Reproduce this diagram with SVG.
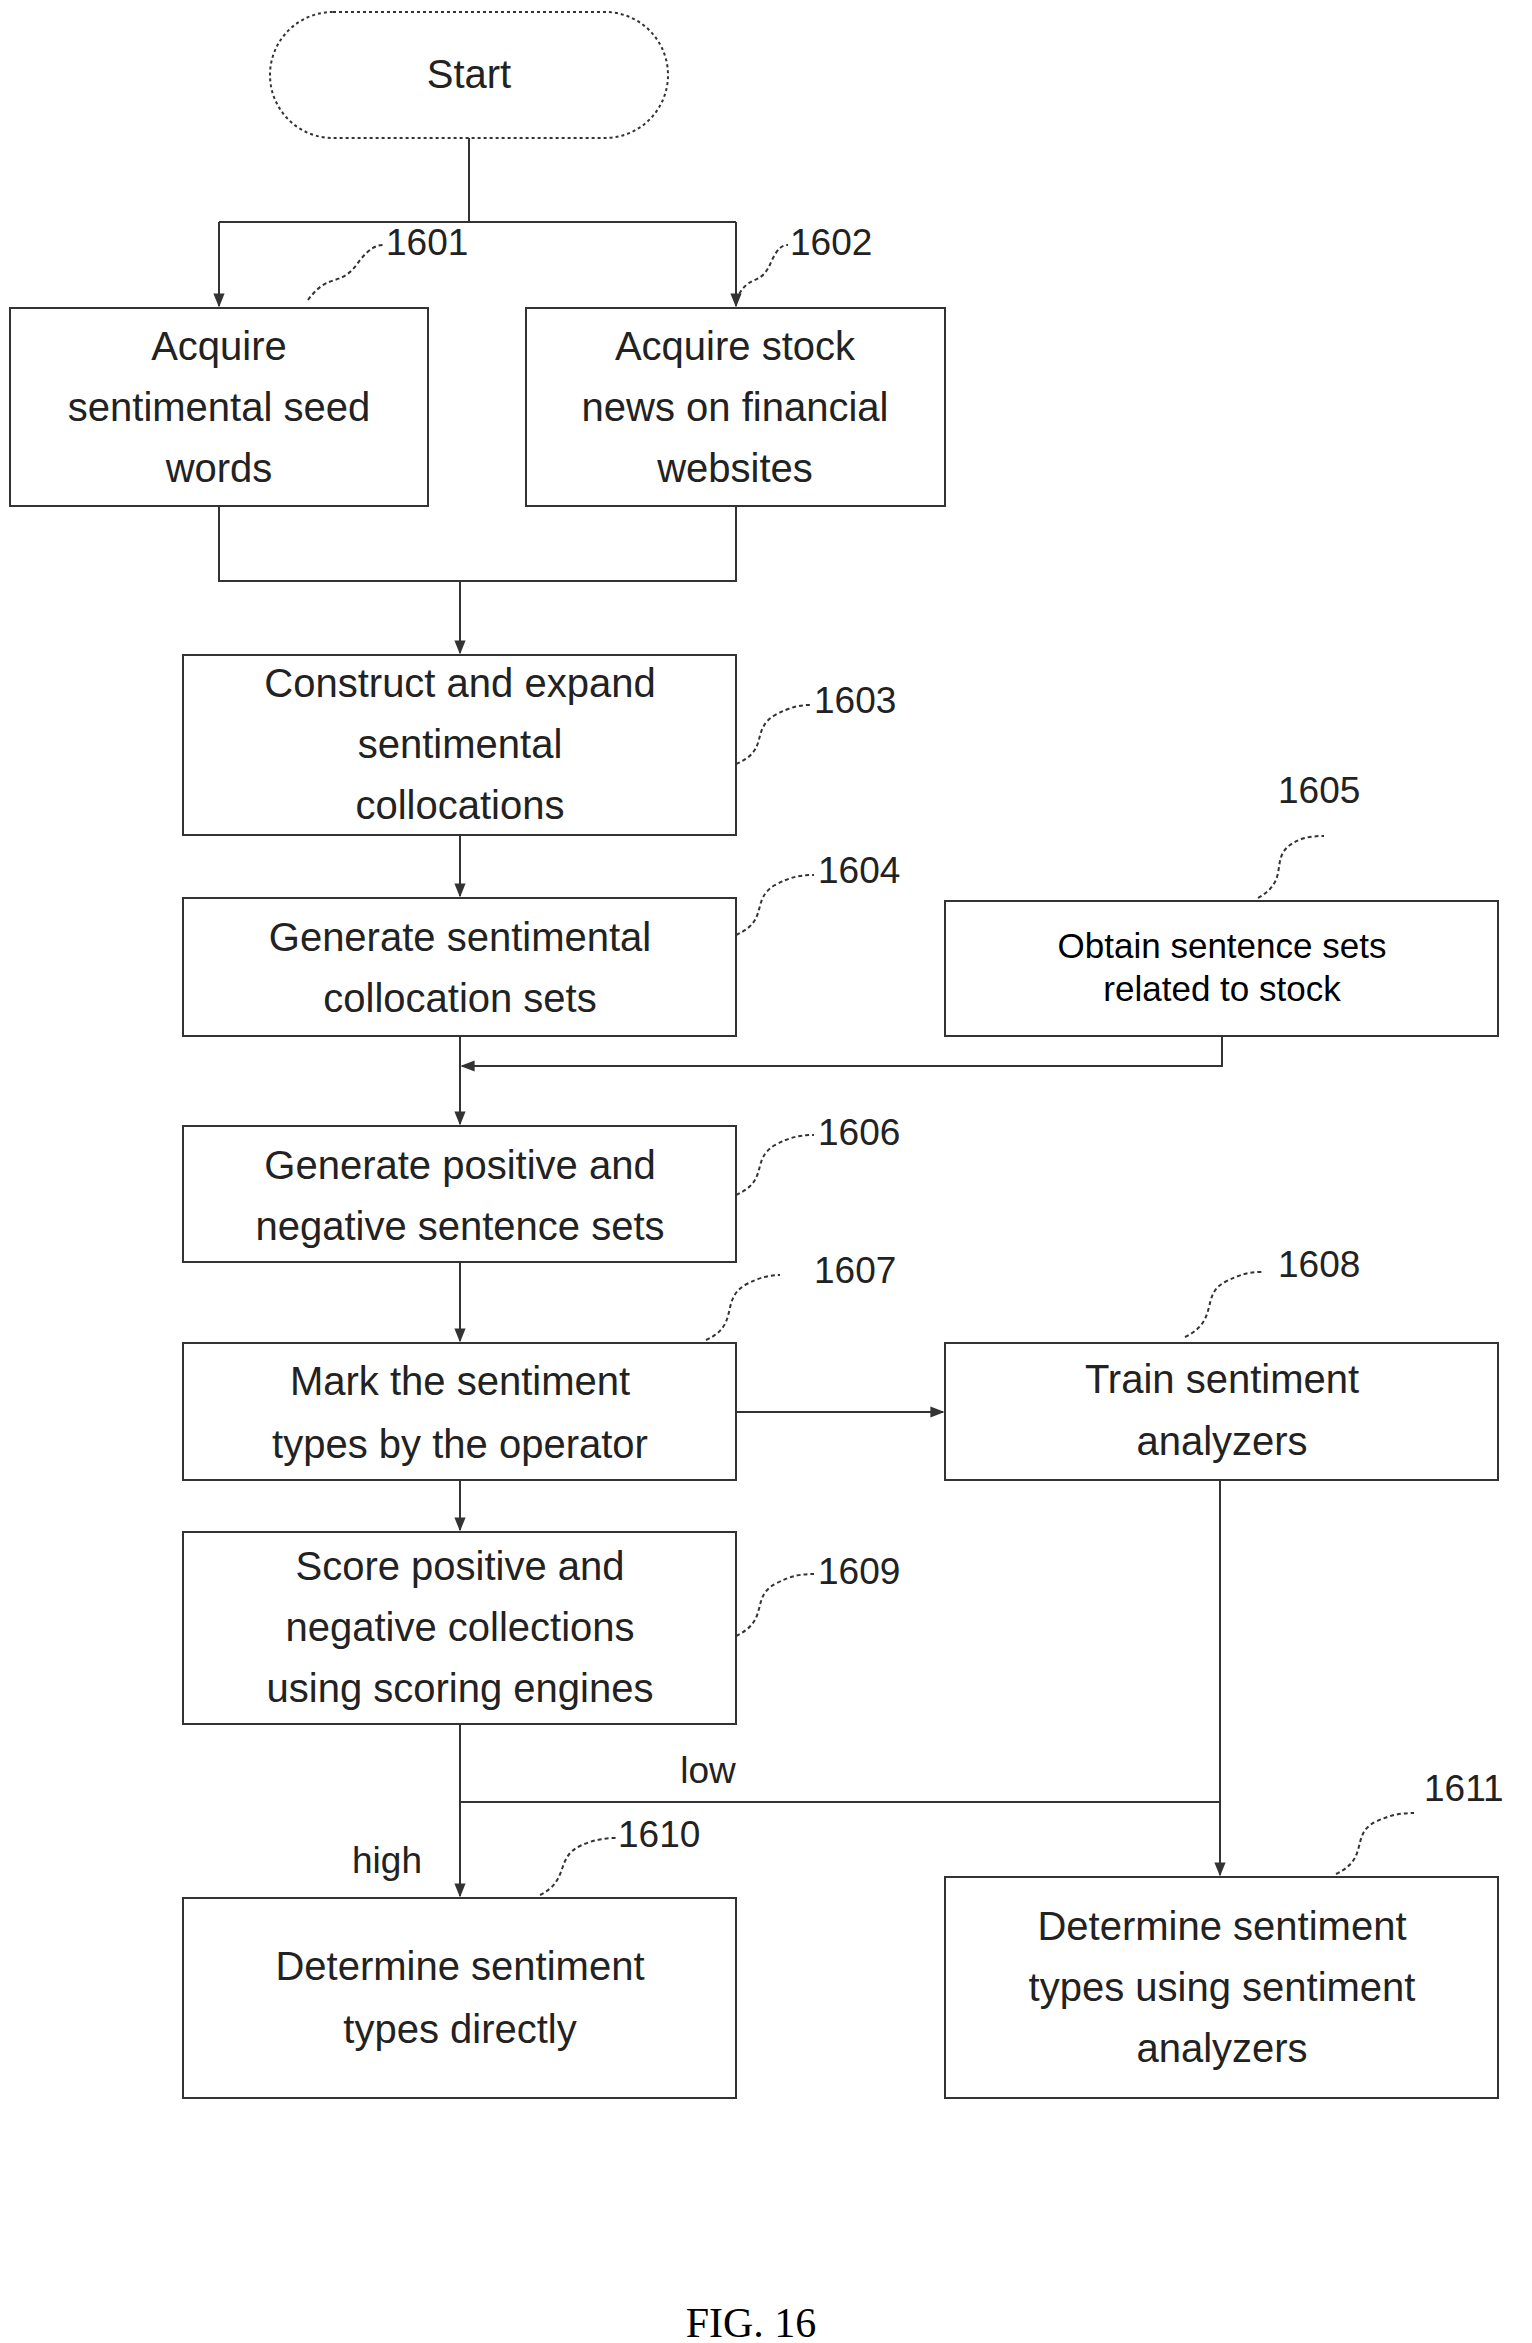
<svg xmlns="http://www.w3.org/2000/svg" width="1532" height="2343" viewBox="0 0 1532 2343">
<style>
.b{fill:#fff;stroke:#333;stroke-width:2}
.t{font-family:"Liberation Sans",Arial,sans-serif;font-size:40px;fill:#222;text-anchor:middle}
.s{font-family:"Liberation Sans",Arial,sans-serif;font-size:35px;fill:#000;text-anchor:middle}
.n{font-family:"Liberation Sans",Arial,sans-serif;font-size:37px;fill:#222}
.c{fill:none;stroke:#333;stroke-width:2}
.l{fill:none;stroke:#333;stroke-width:2;stroke-dasharray:4 3}
</style>
<defs><marker id="a" viewBox="0 0 10 10" refX="9" refY="5" markerWidth="7" markerHeight="7" orient="auto"><path d="M0,1 L10,5 L0,9 z" fill="#333"/></marker></defs>
<rect width="1532" height="2343" fill="#fff"/>
<g id="start"><rect x="270" y="12" width="398" height="126" rx="63" class="b" stroke-dasharray="3 3"/><text x="469" y="88" class="t">Start</text></g>
<g id="n1601"><rect x="10" y="308" width="418" height="198" class="b"/><text x="219" y="360" class="t">Acquire</text><text x="219" y="421" class="t">sentimental seed</text><text x="219" y="482" class="t">words</text><text x="386" y="255" class="n">1601</text><path d="M308,300 C330,270 340,290 360,260 C370,248 376,245 384,245" class="l"/></g>
<g id="n1602"><rect x="526" y="308" width="419" height="198" class="b"/><text x="735" y="360" class="t">Acquire stock</text><text x="735" y="421" class="t">news on financial</text><text x="735" y="482" class="t">websites</text><text x="790" y="255" class="n">1602</text><path d="M736,300 C750,270 760,290 772,260 C778,248 782,245 788,245" class="l"/></g>
<g id="n1603"><rect x="183" y="655" width="553" height="180" class="b"/><text x="460" y="697" class="t">Construct and expand</text><text x="460" y="758" class="t">sentimental</text><text x="460" y="819" class="t">collocations</text><text x="814" y="713" class="n">1603</text><path d="M736,764 C770,750 750,730 775,715 C790,707 800,705 810,705" class="l"/></g>
<g id="n1604"><rect x="183" y="898" width="553" height="138" class="b"/><text x="460" y="951" class="t">Generate sentimental</text><text x="460" y="1012" class="t">collocation sets</text><text x="818" y="883" class="n">1604</text><path d="M736,935 C770,920 750,900 775,885 C790,877 800,875 814,875" class="l"/></g>
<g id="n1605"><rect x="945" y="901" width="553" height="135" class="b"/><text x="1222" y="958" class="s">Obtain sentence sets</text><text x="1222" y="1001" class="s">related to stock</text><text x="1278" y="803" class="n">1605</text><path d="M1258,898 C1290,880 1270,860 1290,845 C1300,838 1310,836 1324,836" class="l"/></g>
<g id="n1606"><rect x="183" y="1126" width="553" height="136" class="b"/><text x="460" y="1179" class="t">Generate positive and</text><text x="460" y="1240" class="t">negative sentence sets</text><text x="818" y="1145" class="n">1606</text><path d="M736,1195 C770,1180 750,1160 775,1145 C790,1137 800,1135 814,1135" class="l"/></g>
<g id="n1607"><rect x="183" y="1343" width="553" height="137" class="b"/><text x="460" y="1395" class="t">Mark the sentiment</text><text x="460" y="1458" class="t">types by the operator</text><text x="814" y="1283" class="n">1607</text><path d="M706,1340 C740,1325 720,1300 745,1285 C760,1277 770,1275 780,1275" class="l"/></g>
<g id="n1608"><rect x="945" y="1343" width="553" height="137" class="b"/><text x="1222" y="1393" class="t">Train sentiment</text><text x="1222" y="1455" class="t">analyzers</text><text x="1278" y="1277" class="n">1608</text><path d="M1185,1337 C1220,1320 1200,1295 1225,1282 C1240,1274 1250,1272 1262,1272" class="l"/></g>
<g id="n1609"><rect x="183" y="1532" width="553" height="192" class="b"/><text x="460" y="1580" class="t">Score positive and</text><text x="460" y="1641" class="t">negative collections</text><text x="460" y="1702" class="t">using scoring engines</text><text x="818" y="1584" class="n">1609</text><path d="M736,1636 C770,1620 750,1598 775,1584 C790,1576 800,1574 814,1574" class="l"/></g>
<g id="n1610"><rect x="183" y="1898" width="553" height="200" class="b"/><text x="460" y="1980" class="t">Determine sentiment</text><text x="460" y="2043" class="t">types directly</text><text x="618" y="1847" class="n">1610</text><path d="M540,1895 C570,1880 555,1858 580,1846 C592,1840 605,1838 616,1838" class="l"/></g>
<g id="n1611"><rect x="945" y="1877" width="553" height="221" class="b"/><text x="1222" y="1940" class="t">Determine sentiment</text><text x="1222" y="2001" class="t">types using sentiment</text><text x="1222" y="2062" class="t">analyzers</text><text x="1424" y="1801" class="n">1611</text><path d="M1336,1874 C1370,1858 1350,1835 1375,1822 C1390,1815 1400,1813 1414,1813" class="l"/></g>
<g id="connectors">
<path d="M469,138 V222 M219,222 H736" class="c"/>
<path d="M219,222 V306" class="c" marker-end="url(#a)"/>
<path d="M736,222 V306" class="c" marker-end="url(#a)"/>
<path d="M219,506 V581 H736 V506 M460,581 V653" class="c" marker-end="url(#a)"/>
<path d="M460,835 V896" class="c" marker-end="url(#a)"/>
<path d="M1222,1036 V1066 H462" class="c" marker-end="url(#a)"/>
<path d="M460,1036 V1124" class="c" marker-end="url(#a)"/>
<path d="M460,1262 V1341" class="c" marker-end="url(#a)"/>
<path d="M736,1412 H943" class="c" marker-end="url(#a)"/>
<path d="M460,1480 V1530" class="c" marker-end="url(#a)"/>
<path d="M1220,1480 V1875" class="c" marker-end="url(#a)"/>
<path d="M460,1724 V1896" class="c" marker-end="url(#a)"/>
<path d="M460,1802 H1220" class="c"/>
<text x="708" y="1783" class="n" text-anchor="middle">low</text>
<text x="387" y="1873" class="n" text-anchor="middle">high</text>
</g>
<text x="751" y="2337" font-family="Liberation Serif,serif" font-size="42" text-anchor="middle">FIG. 16</text>
</svg>
